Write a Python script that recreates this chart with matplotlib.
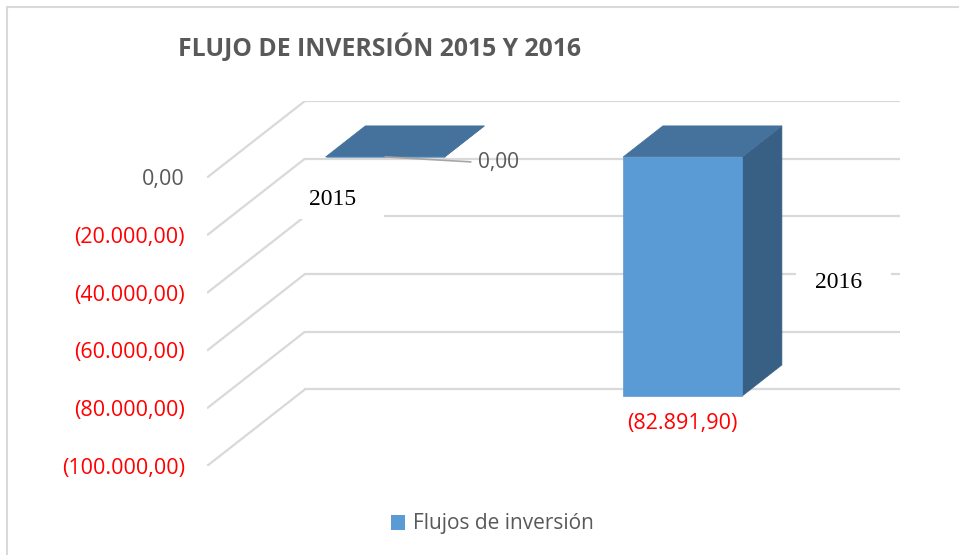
import matplotlib
matplotlib.use("Agg")
import matplotlib.pyplot as plt
from matplotlib.patches import Polygon, Rectangle

# data
years = ["2015", "2016"]
flujos = [0.00, -82891.90]
value_labels = ["0,00", "(82.891,90)"]
tick_values = [0, -20000, -40000, -60000, -80000, -100000]
tick_labels = ["0,00", "(20.000,00)", "(40.000,00)", "(60.000,00)",
               "(80.000,00)", "(100.000,00)"]

# fake 3D geometry (depth offset in data units)
DX = 0.329
DY = 26552
F0, F1 = 0.27, 0.675      # bar front / back depth fraction
BAR_W = 0.4

FRONT = "#5b9bd5"
TOP = "#44729d"
SIDE = "#386085"
GRID = "#d9d9d9"
GRAY = "#595959"
RED = "#ff0000"
SANS = "Open Sans"

fig = plt.figure(figsize=(9.59, 5.55), dpi=100)
ax = fig.add_axes([207 / 959, 89 / 555, 693 / 959, 365 / 555])
ax.set_xlim(0, len(years) + DX)
ax.set_ylim(min(tick_values), max(tick_values) + DY)
ax.axis("off")

# walls: side diagonals + back gridlines
for v in tick_values:
    ax.plot([0, DX], [v, v + DY], color=GRID, lw=1.6, zorder=1, solid_capstyle="butt")
    ax.plot([DX, len(years) + DX], [v + DY, v + DY], color=GRID, lw=1.6, zorder=1)

# tick labels
for v, lab in zip(tick_values, tick_labels):
    ax.text(-0.074, v - 800, lab, ha="right", va="center", fontsize=15.5, family=SANS,
            color=RED if v < 0 else GRAY, clip_on=False)

# bars
for i, val in enumerate(flujos):
    c = i + 0.51
    xl, xr = c - BAR_W / 2, c + BAR_W / 2
    top = max(val, 0)
    bot = min(val, 0)
    front = [(xl + F0 * DX, bot + F0 * DY), (xr + F0 * DX, bot + F0 * DY),
             (xr + F0 * DX, top + F0 * DY), (xl + F0 * DX, top + F0 * DY)]
    side = [(xr + F0 * DX, bot + F0 * DY), (xr + F1 * DX, bot + F1 * DY),
            (xr + F1 * DX, top + F1 * DY), (xr + F0 * DX, top + F0 * DY)]
    lid = [(xl + F0 * DX, top + F0 * DY), (xr + F0 * DX, top + F0 * DY),
           (xr + F1 * DX, top + F1 * DY), (xl + F1 * DX, top + F1 * DY)]
    for pts, col in [(side, SIDE), (front, FRONT), (lid, TOP)]:
        ax.add_patch(Polygon(pts, closed=True, fc=col, ec=col, lw=0.5, zorder=3))

# data labels
ax.annotate(value_labels[0], xy=(0.51 + F0 * DX, F0 * DY), xytext=(0.91, 5300),
            ha="left", va="center", fontsize=15, family=SANS, color=GRAY,
            arrowprops=dict(arrowstyle="-", color="#a6a6a6", lw=1.2,
                            relpos=(0, 0.5), shrinkA=3, shrinkB=0), zorder=4)
ax.annotate(value_labels[1], xy=(1.51 + F0 * DX, flujos[1] + F0 * DY),
            xytext=(0, -12), textcoords="offset points", ha="center", va="top",
            fontsize=15.5, family=SANS, color=RED, zorder=4)

# category labels (odd excel placement, white boxes over gridlines)
label_pos = [(0.4235, -7600), (2.124, -36400)]
box_size = [(0.315, 16300), (0.32, 13500)]
box_shift = [1500, 0]
for lab, (x, y), (bw, bh), sh in zip(years, label_pos, box_size, box_shift):
    ax.add_patch(Rectangle((x + 0.015 - bw / 2, y + sh - bh / 2), bw, bh, fc="white",
                           ec="none", zorder=2))
    ax.text(x, y, lab, ha="center", va="center", fontsize=17,
            family="Liberation Serif", color="black", zorder=2.5)

# title
fig.text(178 / 959, 1 - 48 / 555, "FLUJO DE INVERSIÓN 2015 Y 2016", ha="left",
         va="center", fontsize=17.8, fontweight="bold", family=SANS, color=GRAY)

# legend
handle = Rectangle((0, 0), 1, 1, fc=FRONT, ec="none")
leg = fig.legend([handle], ["Flujos de inversión"], loc="center",
                 bbox_to_anchor=(492 / 959, 1 - 524 / 555), frameon=False,
                 handlelength=0.7, handleheight=0.7, handletextpad=0.35,
                 prop={"family": SANS, "size": 15})
for t in leg.get_texts():
    t.set_color(GRAY)

# chart border (only top/left visible)
fig.patches.append(Rectangle((7 / 959, -0.1), 1.2, 1.1 - 7 / 555, fill=False,
                             ec=GRID, lw=1.5, transform=fig.transFigure))

fig.savefig("out.png", dpi=100)
